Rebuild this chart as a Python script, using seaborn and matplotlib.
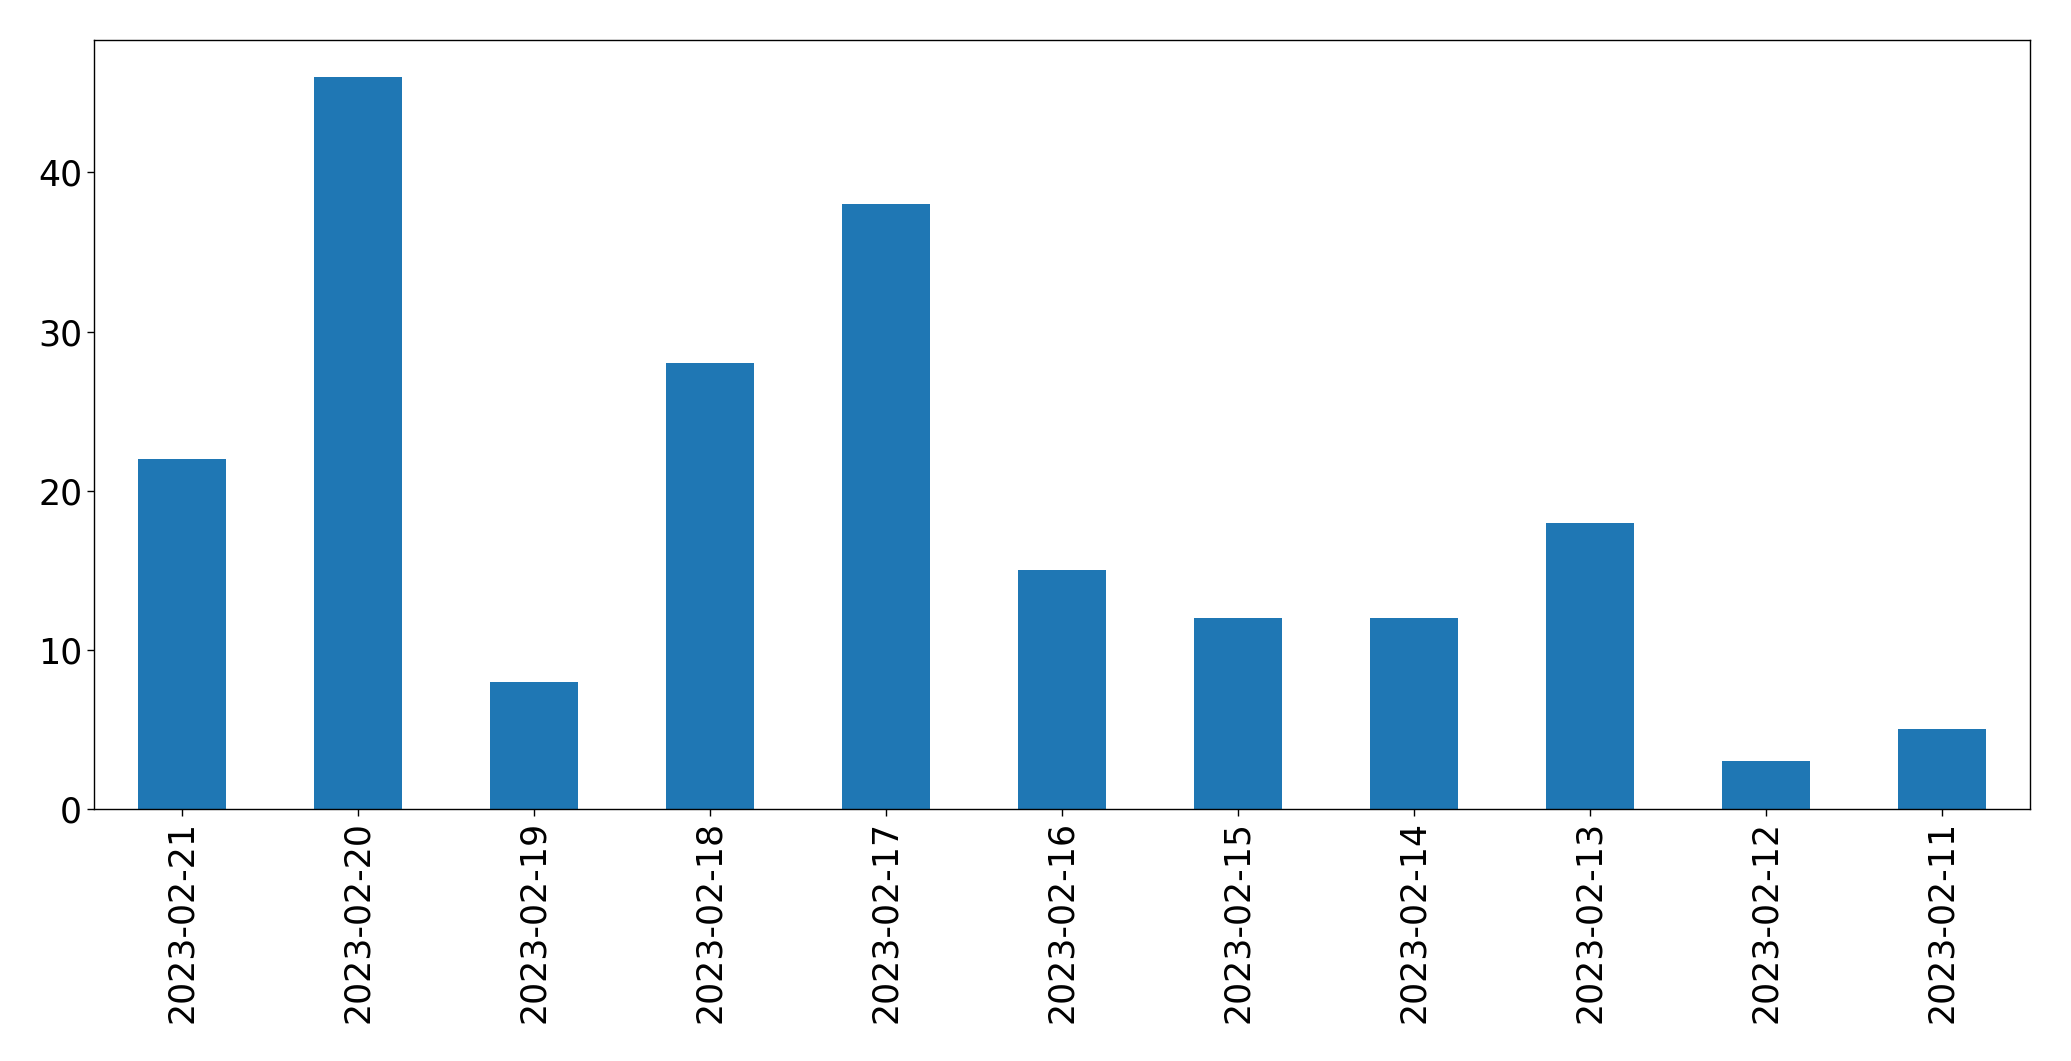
import matplotlib
matplotlib.use("Agg")
import matplotlib.pyplot as plt
import seaborn as sns
import pandas as pd

# data
dates = ["2023-02-21", "2023-02-20", "2023-02-19", "2023-02-18", "2023-02-17",
         "2023-02-16", "2023-02-15", "2023-02-14", "2023-02-13", "2023-02-12",
         "2023-02-11"]
counts = [22, 46, 8, 28, 38, 15, 12, 12, 18, 3, 5]

df = pd.DataFrame({"date": dates, "count": counts})

sns.set_style("ticks")
plt.rcParams['font.family'] = ['DejaVu Sans']
plt.rcParams['text.color'] = 'black'
plt.rcParams['xtick.color'] = 'black'
plt.rcParams['ytick.color'] = 'black'

fig = plt.figure(figsize=(20.71, 10.61), dpi=100)
ax = fig.add_axes([0.0454, 0.2375, 0.9349, 0.7245])

sns.barplot(data=df, x="date", y="count", color="#1f77b4", saturation=1,
            width=0.5, linewidth=0, ax=ax)

ax.set_xlim(-0.5, len(dates) - 0.5)
ax.set_ylim(0, max(counts) * 1.05)
ax.set_xlabel("")
ax.set_ylabel("")
ax.tick_params(axis="x", labelrotation=90, labelsize=25, length=5, width=1,
               colors="black")
ax.tick_params(axis="y", labelsize=25, length=5, width=1, colors="black")
for s in ax.spines.values():
    s.set_visible(True)
    s.set_linewidth(1)
    s.set_color("black")

fig.savefig("out.png", dpi=100)
